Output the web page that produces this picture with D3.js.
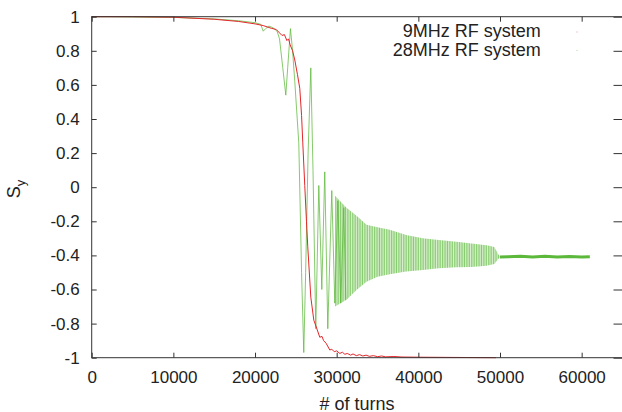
<!DOCTYPE html>
<html>
<head>
<meta charset="utf-8">
<script src="https://cdn.jsdelivr.net/npm/d3@7.9.0/dist/d3.min.js"></script>
<style>
  html, body { margin: 0; padding: 0; background: #fff; }
  svg { display: block; font-family: "Liberation Sans", Arial, sans-serif; }
</style>
</head>
<body>
<svg id="chart" width="622" height="412"></svg>
<script>
// turns, Sy  -- 9MHz RF system (red)
const rf9 = [
  [0, 1], [5000, 1], [10000, 0.997], [15000, 0.985], [18000, 0.972], [20000, 0.958],
  [21000, 0.948], [22000, 0.932], [22600, 0.925], [23000, 0.905], [23300, 0.89],
  [23600, 0.895], [23900, 0.86], [24100, 0.87], [24300, 0.835], [24600, 0.8],
  [24870, 0.746], [25200, 0.66], [25480, 0.58], [25700, 0.42], [25850, 0.26],
  [26090, 0.01], [26300, -0.2], [26460, -0.35], [26830, -0.645], [27200, -0.78],
  [27500, -0.82], [27930, -0.88], [28200, -0.875], [28400, -0.9], [28700, -0.915],
  [29160, -0.955], [29400, -0.95], [29700, -0.965], [30000, -0.96], [30380, -0.975],
  [30700, -0.968], [31000, -0.98], [31300, -0.975], [31700, -0.985], [32000, -0.978],
  [32400, -0.988], [32800, -0.982], [33200, -0.99], [33600, -0.985], [34000, -0.992],
  [34500, -0.988], [35000, -0.994], [35500, -0.99], [36000, -0.995], [37000, -0.993],
  [38000, -0.996], [40000, -0.997], [43000, -0.998], [46000, -0.999], [49500, -1.0]
];

// 28MHz RF system (green): start and first big swings
const rf28 = [
  [0, 1], [2000, 1], [5000, 0.998], [10000, 0.996], [15000, 0.987], [18000, 0.976],
  [20000, 0.965], [20700, 0.955], [21000, 0.915], [21300, 0.93], [21700, 0.945],
  [22200, 0.935], [22700, 0.915], [23000, 0.87], [23400, 0.7], [23770, 0.54],
  [24000, 0.7], [24340, 0.93], [24600, 0.8], [24870, 0.62], [25360, 0.26],
  [25700, -0.5], [25970, -0.97], [26200, -0.5], [26500, 0.2], [26830, 0.7],
  [27100, 0.1], [27440, -0.83], [27810, 0.01], [28180, -0.6], [28540, 0.09],
  [28910, -0.83], [29400, -0.02], [29770, -0.68], [30140, -0.08], [30500, -0.68],
  [30870, -0.12], [31120, -0.66]
];

// 28MHz: envelope of the fast oscillation, turns / upper / lower
const oscTurns = [29800, 31200, 32500, 33650, 35000, 36500, 38500, 40550, 42500, 44680, 46500, 48350, 49300, 49980];
const oscUpper = [-0.05, -0.12, -0.17, -0.22, -0.235, -0.25, -0.28, -0.3, -0.31, -0.32, -0.33, -0.34, -0.35, -0.41];
const oscLower = [-0.7, -0.66, -0.6, -0.555, -0.525, -0.51, -0.495, -0.485, -0.475, -0.47, -0.468, -0.46, -0.45, -0.41];

// 28MHz: settled tail
const rf28Tail = [
  [49980, -0.41], [51000, -0.408], [52500, -0.405], [54000, -0.41], [55500, -0.405],
  [57000, -0.41], [58500, -0.407], [60000, -0.41], [61000, -0.408]
];

const xTicks = [0, 10000, 20000, 30000, 40000, 50000, 60000];
const yTicks = [1, 0.8, 0.6, 0.4, 0.2, 0, -0.2, -0.4, -0.6, -0.8, -1];
const seriesNames = ['9MHz RF system', '28MHz RF system'];

const svg = d3.select('#chart');
const plotLeft = 91.7, plotTop = 16.7, plotRight = 622.5, plotBottom = 357.7;

const x = d3.scaleLinear().domain([0, 65000]).range([plotLeft, plotRight]);
const y = d3.scaleLinear().domain([-1, 1]).range([plotBottom, plotTop]);

const red = '#e4262a';
const green = '#5cb83a';

// stripe pattern for the dense oscillation band
const defs = svg.append('defs');
const pat = defs.append('pattern')
  .attr('id', 'osc')
  .attr('patternUnits', 'userSpaceOnUse')
  .attr('width', 1.7)
  .attr('height', 6);
pat.append('rect')
  .attr('width', 1.7)
  .attr('height', 6)
  .attr('fill', '#d9f0cf');
pat.append('rect')
  .attr('width', 0.8)
  .attr('height', 6)
  .attr('fill', green)
  .attr('opacity', 0.7);

const band = oscTurns.map((t, i) => ({ t, hi: oscUpper[i], lo: oscLower[i] }));

svg.append('path')
  .datum(band)
  .attr('d', d3.area().x(d => x(d.t)).y0(d => y(d.lo)).y1(d => y(d.hi)))
  .attr('fill', 'url(#osc)');

const line = d3.line().x(d => x(d[0])).y(d => y(d[1]));

svg.append('path')
  .datum(rf28)
  .attr('d', line)
  .attr('fill', 'none')
  .attr('stroke', green)
  .attr('stroke-opacity', 0.75)
  .attr('stroke-width', 1);

svg.append('path')
  .datum(rf28Tail)
  .attr('d', line)
  .attr('fill', 'none')
  .attr('stroke', green)
  .attr('stroke-width', 3);

svg.append('path')
  .datum(rf9)
  .attr('d', line)
  .attr('fill', 'none')
  .attr('stroke', red)
  .attr('stroke-width', 1);

// axes
const axisColor = '#333';

function styleAxis(g) {
  g.select('.domain').remove();
  g.selectAll('.tick line').attr('stroke', axisColor);
  g.selectAll('.tick text').attr('font-size', 17).attr('fill', '#222');
}

svg.append('g')
  .attr('transform', `translate(0,${plotBottom})`)
  .call(d3.axisBottom(x).tickValues(xTicks).tickSizeInner(-5).tickSizeOuter(0).tickPadding(13).tickFormat(d => String(d)))
  .call(styleAxis);

svg.append('g')
  .attr('transform', `translate(0,${plotTop})`)
  .call(d3.axisTop(x).tickValues(xTicks).tickSizeInner(-5).tickSizeOuter(0).tickFormat(''))
  .call(styleAxis);

svg.append('g')
  .attr('transform', `translate(${plotLeft},0)`)
  .call(d3.axisLeft(y).tickValues(yTicks).tickSizeInner(-5).tickSizeOuter(0).tickPadding(12).tickFormat(d => String(d)))
  .call(styleAxis);

svg.append('g')
  .attr('transform', `translate(${plotRight},0)`)
  .call(d3.axisRight(y).tickValues(yTicks).tickSizeInner(-9).tickSizeOuter(0).tickFormat(''))
  .call(styleAxis);

svg.append('rect')
  .attr('x', plotLeft).attr('y', plotTop)
  .attr('width', plotRight - plotLeft).attr('height', plotBottom - plotTop)
  .attr('fill', 'none')
  .attr('stroke', axisColor)
  .attr('stroke-width', 1);

// axis titles
svg.append('text')
  .attr('x', 357).attr('y', 409.5)
  .attr('text-anchor', 'middle')
  .attr('font-size', 18)
  .attr('fill', '#222')
  .text('# of turns');

const sy = svg.append('text')
  .attr('transform', 'translate(20,189) rotate(-90)')
  .attr('text-anchor', 'middle')
  .attr('font-size', 18)
  .attr('fill', '#222');
sy.append('tspan').text('S');
sy.append('tspan').attr('font-size', 13).attr('dy', 5).text('y');

// legend
const legendColors = [red, green];
const legend = svg.append('g');
seriesNames.forEach((name, i) => {
  const ly = 37 + i * 18.5;
  legend.append('text')
    .attr('x', 540.7).attr('y', ly)
    .attr('text-anchor', 'end')
    .attr('font-size', 18)
    .attr('fill', '#222')
    .text(name);
  legend.append('line')
    .attr('x1', 576).attr('x2', 578)
    .attr('y1', ly - 5).attr('y2', ly - 5)
    .attr('stroke', legendColors[i])
    .attr('stroke-opacity', 0.25)
    .attr('stroke-width', 1);
});
</script>
</body>
</html>
